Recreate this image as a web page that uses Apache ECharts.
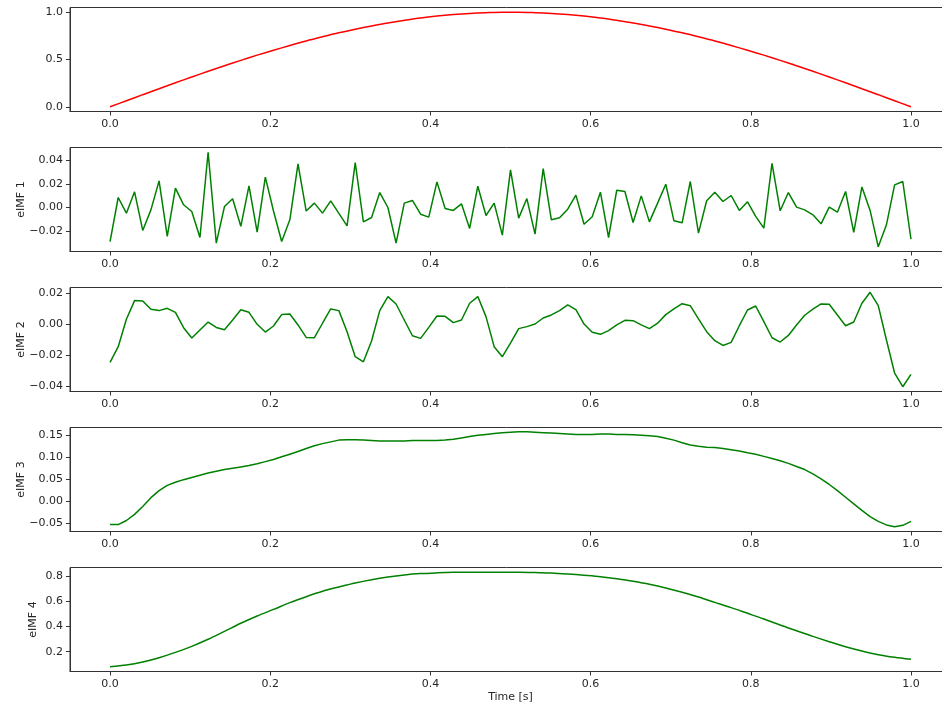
<!DOCTYPE html>
<html>
<head>
<meta charset="utf-8">
<script src="https://cdn.jsdelivr.net/npm/echarts@6/dist/echarts.min.js"></script>
<style>
html,body{margin:0;padding:0;background:#fff;}
#chart{width:942px;height:704px;}
</style>
</head>
<body>
<div id="chart"></div>
<script>
// ---- data ----
const xTicks = [0, 0.2, 0.4, 0.6, 0.8, 1.0];
const signalTicks = [0, 0.5, 1.0];
const imf1Ticks = [-0.02, 0, 0.02, 0.04];
const imf2Ticks = [-0.04, -0.02, 0, 0.02];
const imf3Ticks = [-0.05, 0, 0.05, 0.10, 0.15];
const imf4Ticks = [0.2, 0.4, 0.6, 0.8];
const axisNames = ["", "eIMF 1", "eIMF 2", "eIMF 3", "eIMF 4"];
const xAxisName = "Time [s]";

// original signal (50 samples over [0,1])
const signal = [0,0.064,0.128,0.191,0.254,0.315,0.375,0.434,0.491,0.546,0.598,0.648,0.696,0.740,0.782,0.820,0.855,0.887,0.914,0.939,0.959,0.975,0.987,0.995,1.0,
  1.0,0.995,0.987,0.975,0.959,0.939,0.914,0.887,0.855,0.820,0.782,0.740,0.696,0.648,0.598,0.546,0.491,0.434,0.375,0.315,0.254,0.191,0.128,0.064,0];

// eIMF 1 (99 samples over [0,1])
const imf1 = [-0.029,0.0085,-0.0048,0.0133,-0.0195,-0.002,0.0226,-0.0246,0.0164,0.0023,
  -0.0034,-0.0255,0.047,-0.0303,0.0008,0.0074,-0.016,0.0184,-0.021,0.0258,
  -0.003,-0.0289,-0.0105,0.037,-0.003,0.0037,-0.0048,0.0057,-0.005,-0.0156,
  0.0382,-0.0122,-0.0085,0.0127,0.0,-0.0303,0.0037,0.006,-0.0057,-0.0082,
  0.0218,-0.0008,-0.0025,0.0031,-0.0178,0.0181,-0.0068,0.0037,-0.0235,0.032,
  -0.009,0.0076,-0.0226,0.0331,-0.0105,-0.0088,-0.0014,0.0105,-0.0142,-0.0079,
  0.013,-0.0255,0.0147,0.0136,-0.0127,0.0099,-0.0122,0.0037,0.0198,-0.0113,
  -0.013,0.0221,-0.0218,0.0057,0.013,0.0051,0.0102,-0.0025,0.0048,-0.0076,
  -0.0175,0.0376,-0.0028,0.0127,0.0003,-0.002,-0.0062,-0.0139,0.0003,-0.004,
  0.0136,-0.0212,0.0175,-0.0025,-0.0334,-0.0147,0.0192,0.0221,-0.0269];

// eIMF 2 (99 samples)
const imf2 = [-0.0247,-0.0145,0.0033,0.0154,0.0152,0.0098,0.0089,0.0104,0.0078,-0.0022,
  -0.0089,-0.0037,0.0015,-0.002,-0.0035,0.0028,0.0095,0.0078,0.0,-0.005,
  -0.0011,0.0063,0.0067,-0.0004,-0.0085,-0.0087,0.0007,0.01,0.0089,-0.0048,
  -0.021,-0.0243,-0.0108,0.0089,0.018,0.0132,0.0028,-0.0074,-0.0091,-0.002,
  0.0054,0.0052,0.0011,0.0028,0.0137,0.018,0.005,-0.0145,-0.021,-0.0122,
  -0.0028,-0.0015,0.0002,0.0041,0.0061,0.0089,0.0126,0.0095,0.0002,-0.0052,
  -0.0065,-0.0041,-0.0004,0.0026,0.0024,-0.0004,-0.0028,0.0007,0.0063,0.01,
  0.0134,0.0121,0.0035,-0.0048,-0.0106,-0.0137,-0.0117,-0.0009,0.0093,0.0119,
  0.0017,-0.0087,-0.0115,-0.0072,-0.0004,0.0059,0.0098,0.0132,0.013,0.0061,
  -0.0009,0.0015,0.0137,0.0208,0.0121,-0.0102,-0.0316,-0.0405,-0.0325];

// eIMF 3 (99 samples)
const imf3 = [-0.0533,-0.0533,-0.044,-0.030,-0.012,0.008,0.024,0.036,0.043,0.049,
  0.054,0.059,0.064,0.068,0.072,0.075,0.078,0.081,0.085,0.090,
  0.095,0.101,0.107,0.113,0.120,0.126,0.131,0.135,0.139,0.140,
  0.140,0.139,0.138,0.137,0.137,0.137,0.137,0.138,0.138,0.138,
  0.138,0.139,0.141,0.144,0.147,0.150,0.152,0.154,0.156,0.157,
  0.158,0.158,0.157,0.156,0.155,0.154,0.153,0.152,0.152,0.152,
  0.153,0.153,0.152,0.152,0.151,0.150,0.149,0.147,0.143,0.139,
  0.133,0.128,0.125,0.123,0.122,0.120,0.117,0.114,0.110,0.107,
  0.102,0.097,0.092,0.086,0.079,0.072,0.062,0.051,0.038,0.024,
  0.009,-0.006,-0.021,-0.035,-0.046,-0.054,-0.058,-0.055,-0.046];

// eIMF 4 (50 samples)
const imf4 = [0.081,0.094,0.118,0.152,0.194,0.242,0.298,0.361,0.425,0.483,
  0.535,0.589,0.636,0.679,0.713,0.745,0.771,0.792,0.808,0.819,
  0.825,0.829,0.830,0.830,0.830,0.830,0.828,0.824,0.816,0.806,
  0.795,0.779,0.758,0.734,0.705,0.671,0.633,0.591,0.549,0.504,
  0.459,0.411,0.366,0.321,0.279,0.239,0.205,0.176,0.155,0.139];

// ---- build ----
function pairs(vals) {
  const n = vals.length - 1;
  return vals.map((v, i) => [i / n, v]);
}
const seriesVals = [signal, imf1, imf2, imf3, imf4];
const yTicks = [signalTicks, imf1Ticks, imf2Ticks, imf3Ticks, imf4Ticks];
const yDigits = [1, 2, 2, 2, 1];
const yRanges = [[-0.05, 1.05], [-0.0374, 0.0510], [-0.0436, 0.0239], [-0.0690, 0.1677], [0.0425, 0.8675]];
const colors = ['#ff0000', '#008000', '#008000', '#008000', '#008000'];
const nameGaps = [0, 43, 43, 43, 31];
const smooths = [0.3, false, false, false, 0.3];

const font = 'DejaVu Sans';
const txt = '#262626';
const ax = '#333333';

const grids = [], xAxes = [], yAxes = [], series = [];
for (let k = 0; k < 5; k++) {
  grids.push({left: 70, width: 881, top: 7.5 + 140 * k, height: 104,
    outerBoundsMode: 'none', containLabel: false,
    show: true, borderColor: ax, borderWidth: 1, backgroundColor: 'transparent'});
  xAxes.push({
    type: 'value', gridIndex: k, min: -0.05, max: 1.05,
    axisLine: {show: true, onZero: false, lineStyle: {color: ax}},
    axisTick: {show: true, length: 4, lineStyle: {color: ax}, customValues: xTicks},
    axisLabel: {show: true, margin: 7, color: txt, fontFamily: font, fontSize: 11,
      customValues: xTicks, formatter: v => v.toFixed(1)},
    splitLine: {show: false},
    name: k === 4 ? xAxisName : '', nameLocation: 'middle', nameGap: 20, nameMoveOverlap: false,
    nameTextStyle: {color: txt, fontFamily: font, fontSize: 11}
  });
  yAxes.push({
    type: 'value', gridIndex: k, min: yRanges[k][0], max: yRanges[k][1],
    axisLine: {show: true, onZero: false, lineStyle: {color: ax}},
    axisTick: {show: true, length: 4, lineStyle: {color: ax}, customValues: yTicks[k]},
    axisLabel: {show: true, margin: 7, color: txt, fontFamily: font, fontSize: 11,
      customValues: yTicks[k], formatter: v => v.toFixed(yDigits[k]).replace('-', '\u2212')},
    splitLine: {show: false},
    name: axisNames[k], nameLocation: 'middle', nameGap: nameGaps[k], nameMoveOverlap: false,
    nameTextStyle: {color: txt, fontFamily: font, fontSize: 11}
  });
  series.push({
    type: 'line', xAxisIndex: k, yAxisIndex: k, data: pairs(seriesVals[k]),
    showSymbol: false, smooth: smooths[k], lineStyle: {color: colors[k], width: 1.5},
    itemStyle: {color: colors[k]}, silent: true
  });
}

const chart = echarts.init(document.getElementById('chart'), null, {renderer: 'canvas'});
chart.setOption({
  animation: false,
  backgroundColor: '#ffffff',
  grid: grids, xAxis: xAxes, yAxis: yAxes, series: series
});
</script>
</body>
</html>
